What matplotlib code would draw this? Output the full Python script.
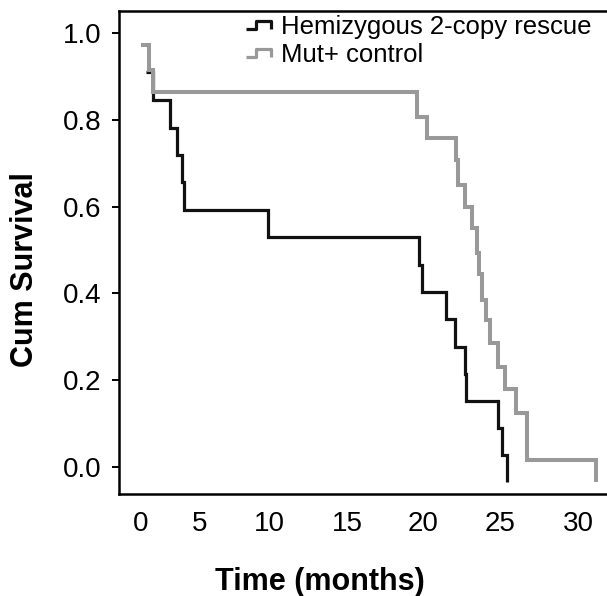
import numpy as np
import matplotlib
matplotlib.use('Agg')
import matplotlib.pyplot as plt
from matplotlib.lines import Line2D
from matplotlib.path import Path

plt.rcParams['font.family'] = ['Liberation Sans', 'DejaVu Sans']

# Kaplan-Meier steps (time in months, cum survival)
rescue_time = [0.46, 1.05, 2.48, 3.07, 3.49, 3.66, 9.89, 19.74, 19.91, 21.49,
               22.08, 22.73, 22.79, 24.87, 25.11, 25.43]
rescue_surv = [0.911, 0.846, 0.782, 0.719, 0.657, 0.592, 0.530, 0.466, 0.403,
               0.341, 0.276, 0.214, 0.152, 0.090, 0.027, -0.035]

control_time = [0.0, 0.71, 1.05, 19.6, 20.26, 22.14, 22.27, 22.73, 23.18,
                23.51, 23.64, 23.83, 24.09, 24.35, 24.87, 25.29, 25.99, 26.75, 31.1]
control_surv = [0.973, 0.915, 0.865, 0.808, 0.758, 0.708, 0.650, 0.600, 0.551,
                0.494, 0.445, 0.385, 0.339, 0.285, 0.230, 0.180, 0.124, 0.015, -0.035]

labels = ['Hemizygous 2-copy rescue', 'Mut+ control']
xticks = [0, 5, 10, 15, 20, 25, 30]
yticks = [0.0, 0.2, 0.4, 0.6, 0.8, 1.0]

# the time axis in the figure is not evenly spaced, calibrate it on the labels
tick_px = np.array([140.5, 200.0, 269.5, 347.0, 423.0, 500.0, 578.5])
tv = np.array(xticks, float)
s0 = (tick_px[1] - tick_px[0]) / (tv[1] - tv[0])
s1 = (tick_px[-1] - tick_px[-2]) / (tv[-1] - tv[-2])


def fwd(t):
    t = np.asarray(t, float)
    y = np.interp(t, tv, tick_px)
    y = np.where(t < tv[0], tick_px[0] + (t - tv[0]) * s0, y)
    y = np.where(t > tv[-1], tick_px[-1] + (t - tv[-1]) * s1, y)
    return y


def inv(p):
    p = np.asarray(p, float)
    t = np.interp(p, tick_px, tv)
    t = np.where(p < tick_px[0], tv[0] + (p - tick_px[0]) / s0, t)
    t = np.where(p > tick_px[-1], tv[-1] + (p - tick_px[-1]) / s1, t)
    return t


black = '#111111'
grey = '#999999'

fig = plt.figure(figsize=(6.07, 5.96), dpi=100)
ax = fig.add_axes([119 / 607, 102 / 596, 488 / 607, 483 / 596])
ax.set_xscale('function', functions=(fwd, inv))

ax.step(rescue_time, rescue_surv, where='post', color=black, lw=2.3,
        solid_capstyle='butt', solid_joinstyle='miter')
ax.step(control_time, control_surv, where='post', color=grey, lw=2.9,
        solid_capstyle='butt', solid_joinstyle='miter')

ax.set_xlim(float(inv(119)), float(inv(607)))
ax.set_ylim(-0.063, 1.0515)
ax.set_xticks(xticks)
ax.set_xticklabels([str(v) for v in xticks])
ax.set_yticks(yticks)
ax.set_yticklabels(['%.1f' % v for v in yticks])
ax.minorticks_off()

ax.tick_params(axis='y', direction='out', length=5.4, width=1.4, pad=7,
               labelsize=20)
ax.tick_params(axis='x', length=0, pad=12, labelsize=20)

ax.spines['right'].set_visible(False)
for s in ['left', 'top', 'bottom']:
    ax.spines[s].set_linewidth(1.8)

ax.set_xlabel('Time (months)', fontsize=22, fontweight='bold')
ax.xaxis.label.set_verticalalignment('center')
ax.xaxis.set_label_coords(0.412, -0.183)
ax.set_ylabel('Cum Survival', fontsize=22, fontweight='bold')
ax.yaxis.label.set_verticalalignment('center')
ax.yaxis.set_label_coords(-0.193, 0.464)

# legend symbol: small step glyph like the SPSS output
step_mark = Path([(-1, -0.33), (-0.2, -0.33), (-0.2, 0.33), (1, 0.33), (1, -0.33)],
                 [Path.MOVETO, Path.LINETO, Path.LINETO, Path.LINETO, Path.LINETO])
handles = [Line2D([], [], linestyle='none', marker=step_mark, markersize=18,
                  markerfacecolor='none', markeredgecolor=c, markeredgewidth=2.3)
           for c in [black, grey]]
ax.legend(handles, labels, loc='upper left', bbox_to_anchor=(0.259, 0.992),
          frameon=False, fontsize=18.5, handlelength=1.0, handletextpad=0.4,
          borderpad=0, borderaxespad=0, labelspacing=0.16, numpoints=1)

fig.savefig('out.png', dpi=100)
